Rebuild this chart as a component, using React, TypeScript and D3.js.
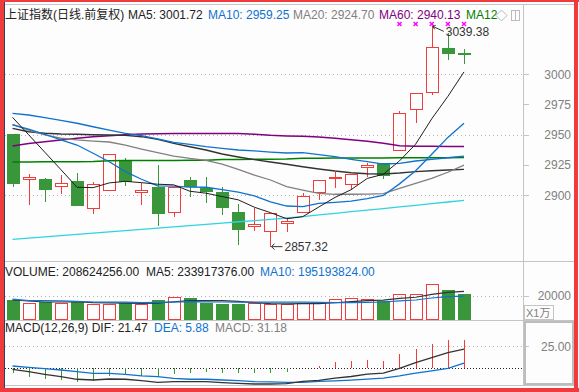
import * as d3 from 'd3';

// daily bars, left to right (price panel)
const openPrices = [2950.7, 2913.0, 2913.2, 2907.2, 2911.6, 2889.0, 2903.9, 2928.7, 2902.2, 2906.6, 2885.7, 2912.4, 2905.8, 2902.5, 2886.0, 2874.1, 2870.0, 2876.6, 2886.2, 2902.2, 2914.9, 2908.8, 2923.1, 2926.2, 2937.4, 2970.8, 2984.9, 3021.5, 3017.1];
const highPrices = [2950.7, 2917.4, 2914.3, 2916.3, 2918.2, 2910.7, 2934.2, 2930.6, 2909.7, 2924.8, 2906.8, 2914.6, 2914.6, 2906.4, 2892.6, 2889.0, 2885.0, 2880.7, 2901.4, 2912.1, 2919.3, 2917.1, 2926.7, 2926.2, 2969.2, 2984.0, 3039.38, 3033.6, 3020.9];
const lowPrices = [2906.9, 2891.7, 2894.5, 2900.6, 2891.2, 2884.5, 2903.5, 2907.7, 2891.7, 2874.6, 2881.6, 2898.6, 2893.6, 2883.5, 2858.9, 2870.5, 2857.32, 2869.7, 2885.4, 2895.6, 2905.5, 2904.4, 2915.1, 2913.5, 2936.6, 2959.3, 2982.9, 3011.8, 3008.5];
const closePrices = [2910.2, 2914.6, 2905.2, 2909.9, 2892.0, 2908.8, 2933.9, 2911.8, 2904.4, 2885.4, 2906.6, 2907.4, 2903.6, 2890.3, 2872.1, 2876.0, 2884.9, 2878.5, 2899.2, 2912.1, 2915.1, 2917.1, 2925.0, 2916.3, 2967.5, 2984.0, 3022.1, 3017.6, 3016.9];

// moving average lines
const ma5 = [2964.2, 2949.8, 2935.4, 2921.0, 2906.4, 2906.1, 2910.0, 2911.3, 2910.2, 2908.9, 2908.4, 2903.1, 2901.5, 2898.7, 2896.0, 2889.9, 2885.4, 2880.4, 2882.1, 2890.1, 2898.0, 2904.4, 2913.7, 2917.1, 2928.2, 2942.0, 2963.0, 2981.5, 3001.72];
const ma10 = [2957.9, 2954.5, 2950.2, 2945.5, 2941.3, 2934.5, 2927.5, 2919.3, 2913.0, 2907.6, 2907.3, 2906.5, 2906.4, 2904.4, 2902.4, 2899.2, 2894.3, 2890.9, 2890.4, 2893.1, 2893.9, 2894.9, 2897.0, 2899.6, 2909.2, 2920.0, 2933.7, 2947.6, 2959.25];
const ma20 = [2958.4, 2953.7, 2949.6, 2946.9, 2945.5, 2944.6, 2943.8, 2941.3, 2938.0, 2935.0, 2932.2, 2930.3, 2928.7, 2925.6, 2921.2, 2916.5, 2912.4, 2906.9, 2904.1, 2901.4, 2900.6, 2900.6, 2900.8, 2901.1, 2905.5, 2909.7, 2913.8, 2918.8, 2924.70];
const ma60 = [2940.5, 2942.6, 2944.1, 2945.5, 2946.9, 2948.2, 2949.0, 2949.8, 2950.4, 2950.7, 2950.8, 2950.9, 2950.9, 2950.9, 2950.8, 2950.2, 2949.3, 2948.8, 2948.5, 2947.9, 2946.9, 2945.7, 2944.4, 2942.7, 2940.7, 2940.2, 2940.2, 2940.1, 2940.13];
const ma120 = [2927.3, 2927.3, 2927.4, 2927.4, 2927.5, 2927.6, 2928.4, 2928.5, 2928.5, 2928.6, 2928.6, 2928.7, 2928.8, 2929.3, 2929.4, 2929.5, 2929.6, 2929.7, 2930.3, 2930.4, 2930.5, 2930.5, 2930.6, 2930.6, 2930.7, 2930.7, 2930.8, 2930.8, 2930.9];
const ma30 = [2967.5, 2966.1, 2963.9, 2961.7, 2959.3, 2956.4, 2953.7, 2951.0, 2949.0, 2946.3, 2943.5, 2941.9, 2939.9, 2938.6, 2937.2, 2936.4, 2935.5, 2934.7, 2935.0, 2933.3, 2931.7, 2929.5, 2927.6, 2925.6, 2926.2, 2928.1, 2929.5, 2930.8, 2932.2];
const ma40 = [2955.1, 2952.3, 2951.0, 2950.4, 2950.2, 2949.8, 2949.6, 2949.3, 2948.2, 2946.0, 2942.7, 2939.9, 2937.2, 2933.9, 2931.4, 2929.2, 2927.3, 2925.4, 2923.4, 2921.5, 2919.8, 2918.4, 2917.6, 2917.4, 2918.2, 2919.3, 2920.1, 2920.7, 2921.2];
const ma250 = [2863.4, 2864.4, 2865.4, 2866.4, 2867.5, 2868.5, 2869.6, 2870.6, 2871.6, 2872.7, 2873.7, 2874.7, 2875.8, 2876.8, 2877.9, 2878.9, 2879.9, 2881.0, 2882.2, 2883.5, 2884.8, 2886.2, 2887.5, 2888.8, 2890.2, 2891.5, 2892.9, 2894.2, 2895.6];

// volume (x1万) and its averages
const volumes = [16250, 14000, 14800, 14000, 14800, 12900, 12900, 13500, 12900, 16250, 18500, 17700, 13500, 12900, 12900, 13500, 12900, 12900, 13500, 13500, 16800, 17700, 16800, 15700, 21300, 21400, 29300, 25000, 20862];
const volMa5 = [16250, 15400, 14600, 14600, 14800, 14100, 13900, 13600, 13400, 13700, 14800, 15800, 15800, 15800, 15100, 14100, 13150, 13050, 13150, 13250, 13950, 14900, 15650, 16100, 17650, 18550, 20900, 22550, 23392];
const volMa10 = [17000, 15700, 15700, 15500, 15200, 14600, 14500, 14400, 14100, 14250, 14450, 14850, 14700, 14600, 14400, 14450, 14450, 14400, 14450, 14200, 14000, 14000, 14350, 14600, 15450, 16250, 17900, 19100, 19519];

// MACD(12,26,9)
const macdHist = [-5.0, -9.3, -11.5, -13.3, -15.8, -14.5, -8.2, -7.4, -8.5, -9.8, -6.8, -5.0, -3.9, -4.8, -5.5, -5.5, -4.8, -3.7, 0, 2.9, 6.6, 8.5, 9.2, 8.5, 16.5, 21.3, 27.6, 31.5, 31.18];
const difLine = [-1.1, -3.8, -6.7, -9.4, -12.3, -13.1, -12.0, -12.3, -13.9, -15.7, -15.0, -15.0, -15.0, -16.1, -16.8, -17.6, -17.6, -17.2, -14.7, -13.6, -11.0, -9.2, -6.6, -5.5, 0.0, 6.3, 12.1, 17.6, 21.47];
const deaLine = [2.6, 1.1, -0.4, -1.9, -3.8, -5.6, -5.6, -6.7, -8.6, -9.4, -11.2, -12.3, -12.3, -13.1, -13.9, -15.0, -15.3, -15.7, -15.8, -14.7, -14.0, -13.2, -12.1, -11.0, -8.5, -5.5, -2.9, 0.0, 5.88];

const priceTicks = [3000, 2975, 2950, 2925, 2900];
const priceGrid = [3000, 2950, 2900];
const volTicks = [20000];
const macdTicks = [25];

const RED = '#f23c3c';
const GREEN = '#3a963a';
const BLUE = '#0f72cf';
const AXIS = '#c4c4c4';
const LABEL = '#808080';
const FONT = "'Liberation Sans', Arial, 'Noto Sans CJK SC', sans-serif";

export default function App() {
  const idx = d3.range(closePrices.length);
  const plotRight = 523.5;

  // candle slots are ~16px apart
  const x = d3.scaleLinear().domain([0, 28]).range([12.5, 464]);
  const y = d3.scaleLinear().domain([2900, 3000]).range([195, 74]);
  const yVol = d3.scaleLinear().domain([0, 20000]).range([319.5, 295.5]);
  const yMacd = d3.scaleLinear().domain([0, 25]).range([368.3, 346]);

  const px = (i: number) => Math.round(x(i)) + 0.5;

  const priceLine = d3.line<number>().x((_, i) => x(i)).y((d) => y(d));
  const volLine = d3.line<number>().x((_, i) => x(i)).y((d) => yVol(d));
  const macdLine = d3.line<number>().x((_, i) => x(i)).y((d) => yMacd(d));

  const maSeries = [
    { data: ma250, color: '#2fd3e0', w: 1.3 },
    { data: ma120, color: '#008000', w: 1.5 },
    { data: ma60, color: '#800080', w: 1.5 },
    { data: ma40, color: '#333333', w: 1.4 },
    { data: ma30, color: BLUE, w: 1.3 },
    { data: ma20, color: '#808080', w: 1.3 },
    { data: ma10, color: BLUE, w: 1.3 },
    { data: ma5, color: '#1e1e1e', w: 1 },
  ];

  const hiIdx = highPrices.indexOf(d3.max(highPrices) as number);
  const loIdx = lowPrices.indexOf(d3.min(lowPrices) as number);
  const hiX = x(hiIdx);
  const hiY = y(highPrices[hiIdx]);
  const loX = x(loIdx);
  const loY = y(lowPrices[loIdx]);

  return (
    <svg width={579} height={392} style={{ position: 'absolute', left: 0, top: 0 }} fontFamily={FONT}>
      <rect x={0} y={0} width={579} height={392} fill="#fdfdfd" />

      {/* dotted grid */}
      {priceGrid.map((t) => (
        <line key={t} x1={5} x2={plotRight} y1={Math.round(y(t)) + 0.5} y2={Math.round(y(t)) + 0.5}
          stroke="#b4b4b4" strokeDasharray="1,3" />
      ))}
      {volTicks.map((t) => (
        <line key={t} x1={5} x2={plotRight} y1={Math.round(yVol(t)) + 0.5} y2={Math.round(yVol(t)) + 0.5}
          stroke="#b4b4b4" strokeDasharray="1,3" />
      ))}
      {macdTicks.map((t) => (
        <line key={t} x1={5} x2={plotRight} y1={Math.round(yMacd(t)) + 0.5} y2={Math.round(yMacd(t)) + 0.5}
          stroke="#b4b4b4" strokeDasharray="1,3" />
      ))}
      <line x1={5} x2={plotRight} y1={Math.round(yMacd(0)) + 0.5} y2={Math.round(yMacd(0)) + 0.5}
        stroke="#222" strokeDasharray="1,2" />

      {/* candles */}
      <g shapeRendering="crispEdges">
        {idx.map((i) => {
          const o = openPrices[i];
          const c = closePrices[i];
          const up = c >= o;
          const col = up ? RED : GREEN;
          const cx = px(i);
          const top = Math.round(y(Math.max(o, c))) + 0.5;
          const bot = Math.max(Math.round(y(Math.min(o, c))) + 0.5, top + 1);
          return (
            <g key={i}>
              <line x1={cx} x2={cx} y1={y(highPrices[i])} y2={top} stroke={col} />
              <line x1={cx} x2={cx} y1={bot} y2={y(lowPrices[i])} stroke={col} />
              {up ? (
                <rect x={cx - 6} y={top} width={12} height={bot - top} fill="none" stroke={col} />
              ) : (
                <rect x={cx - 6.5} y={top - 0.5} width={13} height={bot - top + 1} fill={col} />
              )}
            </g>
          );
        })}
      </g>

      {/* moving averages */}
      {maSeries.map((s, k) => (
        <path key={k} d={priceLine(s.data) ?? ''} fill="none" stroke={s.color} strokeWidth={s.w} />
      ))}

      {/* top markers */}
      {idx.slice(-5).map((i) => (
        <g key={i} stroke="#ff00ff" strokeWidth={1.4}>
          <line x1={x(i) - 2} x2={x(i) + 2} y1={22} y2={26} />
          <line x1={x(i) - 2} x2={x(i) + 2} y1={26} y2={22} />
        </g>
      ))}

      {/* high / low labels */}
      <g stroke="#333" fill="none">
        <line x1={hiX + 1} y1={hiY} x2={hiX + 12} y2={hiY + 5} />
        <polyline points={`${hiX + 4},${hiY - 1} ${hiX + 1},${hiY} ${hiX + 3},${hiY + 3}`} />
        <line x1={loX + 1} y1={loY} x2={loX + 12} y2={loY} />
        <polyline points={`${loX + 4},${loY - 3} ${loX + 1},${loY} ${loX + 4},${loY + 3}`} />
      </g>
      <text x={hiX + 14} y={hiY + 10} fontSize={12} fill="#333">{highPrices[hiIdx].toFixed(2)}</text>
      <text x={loX + 14} y={loY + 4.5} fontSize={12} fill="#333">{lowPrices[loIdx].toFixed(2)}</text>

      {/* volume bars */}
      <g shapeRendering="crispEdges">
        {idx.map((i) => {
          const up = closePrices[i] >= openPrices[i];
          const cx = px(i);
          const top = Math.round(yVol(volumes[i])) + 0.5;
          return up ? (
            <rect key={i} x={cx - 6} y={top} width={12} height={319.5 - top} fill="none" stroke={RED} />
          ) : (
            <rect key={i} x={cx - 6.5} y={top - 0.5} width={13} height={320 - top} fill={GREEN} />
          );
        })}
      </g>
      <path d={volLine(volMa5) ?? ''} fill="none" stroke="#333" strokeWidth={1.2} />
      <path d={volLine(volMa10) ?? ''} fill="none" stroke={BLUE} strokeWidth={1.2} />

      {/* MACD */}
      <g shapeRendering="crispEdges">
        {idx.map((i) => (
          <line key={i} x1={px(i)} x2={px(i)} y1={yMacd(0)} y2={yMacd(macdHist[i])}
            stroke={macdHist[i] >= 0 ? RED : GREEN} strokeWidth={1.2} />
        ))}
      </g>
      <path d={macdLine(deaLine) ?? ''} fill="none" stroke={BLUE} strokeWidth={1.3} />
      <path d={macdLine(difLine) ?? ''} fill="none" stroke="#333" strokeWidth={1.3} />

      {/* frames and separators */}
      <g stroke={AXIS} shapeRendering="crispEdges">
        <line x1={5} x2={574} y1={4.5} y2={4.5} />
        <line x1={5} x2={574} y1={261.5} y2={261.5} />
        <line x1={5} x2={574} y1={320.5} y2={320.5} />
        <line x1={5} x2={574} y1={385.5} y2={385.5} />
        <line x1={plotRight} x2={plotRight} y1={4.5} y2={385.5} />
      </g>

      {/* right axis */}
      <g fontSize={12} fill={LABEL} textAnchor="end">
        {priceTicks.map((t) => (
          <g key={t}>
            <line x1={plotRight} x2={529} y1={Math.round(y(t)) + 0.5} y2={Math.round(y(t)) + 0.5} stroke={AXIS} />
            <text x={571} y={y(t) + 4.5}>{t}</text>
          </g>
        ))}
        {volTicks.map((t) => (
          <g key={t}>
            <line x1={plotRight} x2={529} y1={Math.round(yVol(t)) + 0.5} y2={Math.round(yVol(t)) + 0.5} stroke={AXIS} />
            <text x={571} y={yVol(t) + 4.5}>{t}</text>
          </g>
        ))}
        {macdTicks.map((t) => (
          <g key={t}>
            <line x1={plotRight} x2={529} y1={Math.round(yMacd(t)) + 0.5} y2={Math.round(yMacd(t)) + 0.5} stroke={AXIS} />
            <text x={571} y={yMacd(t) + 4.5}>{t.toFixed(2)}</text>
          </g>
        ))}
      </g>
      <rect x={524.5} y={305.5} width={29} height={14} fill="none" stroke={AXIS} />
      <text x={526} y={317} fontSize={11} fill={LABEL}>X1万</text>
      <rect x={525} y={322} width={48} height={62} fill="none" stroke="#bdbdbd" strokeWidth={2} />

      {/* titles */}
      <g fontSize={12}>
        <text x={5} y={19} fill="#222">上证指数(日线.前复权)</text>
        <text x={128} y={19} fill="#222">MA5: 3001.72</text>
        <text x={208} y={19} fill={BLUE}>MA10: 2959.25</text>
        <text x={293} y={19} fill="#808080">MA20: 2924.70</text>
        <text x={379} y={19} fill="#800080">MA60: 2940.13</text>
        <text x={466} y={19} fill="#008000">MA12</text>

        <text x={5} y={276} fill="#222">VOLUME: 208624256.00</text>
        <text x={146} y={276} fill="#222">MA5: 233917376.00</text>
        <text x={260} y={276} fill={BLUE}>MA10: 195193824.00</text>

        <text x={5} y={332} fill="#222">MACD(12,26,9) DIF: 21.47</text>
        <text x={154} y={332} fill={BLUE}>DEA: 5.88</text>
        <text x={215} y={332} fill="#808080">MACD: 31.18</text>
      </g>
      <polygon points="501.5,10 507,15.5 501.5,21 496,15.5" fill="none" stroke="#bbb" />
      <rect x={511.5} y={10.5} width={8} height={10} fill="none" stroke="#bbb" shapeRendering="crispEdges" />
      <line x1={515.5} x2={515.5} y1={10.5} y2={20.5} stroke="#bbb" shapeRendering="crispEdges" />

      {/* outer red frame */}
      <g fill="#ef3b3b" shapeRendering="crispEdges">
        <rect x={0} y={0} width={4} height={392} />
        <rect x={0} y={0} width={579} height={2} />
        <rect x={574} y={0} width={4} height={392} />
        <rect x={0} y={388} width={579} height={4} />
      </g>
      <line x1={4.5} x2={4.5} y1={2} y2={388} stroke="#2b3f6b" shapeRendering="crispEdges" />
    </svg>
  );
}
